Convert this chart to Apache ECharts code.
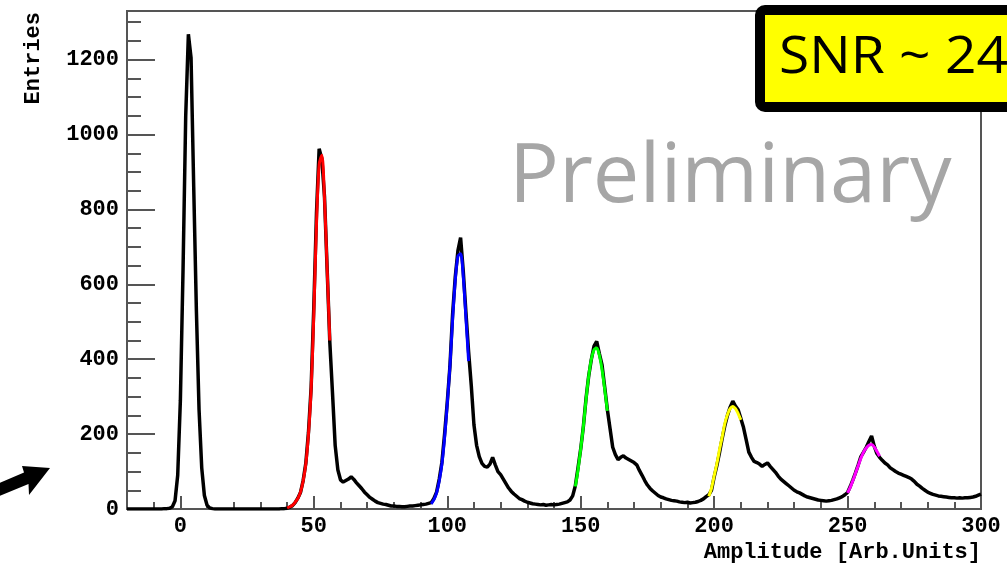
<!DOCTYPE html>
<html>
<head>
<meta charset="utf-8">
<script src="https://cdn.jsdelivr.net/npm/echarts@6/dist/echarts.min.js"></script>
<style>
html,body{margin:0;padding:0;background:#fff;}
#chart{width:1007px;height:563px;}
</style>
</head>
<body>
<div id="chart"></div>
<script>
// ---------------- data ----------------
const binStart = -20;
const binWidth = 1;
// histogram entries, one per amplitude unit from -20 to 300
const entries = [
  0,0,0,0,0,0,0,0,0,0,            // -20..-11
  0,0,0,0,1,1,2,6,22,90,          // -10..-1
  290,640,1050,1268,1205,860,530,265,110,36, // 0..9
  10,3,1,0,0,0,0,0,0,0,           // 10..19
  0,0,0,0,0,0,0,0,0,0,            // 20..29
  0,0,0,0,0,0,0,0,1,1,            // 30..39
  2,5,9,17,29,44,76,122,205,325,  // 40..49
  540,790,962,935,835,640,445,310,170,105, // 50..59
  78,72,76,80,86,79,70,62,54,45,  // 60..69
  38,31,26,21,17,15,13,12,10,8,   // 70..79
  8,7,7,6,6,7,8,8,9,10,           // 80..89
  11,12,13,15,17,28,45,80,125,200, // 90..99
  285,380,520,620,690,725,635,525,420,330, // 100..109
  225,170,140,122,114,112,120,138,118,100, // 110..119
  92,80,68,56,47,40,34,28,25,21,  // 120..129
  18,16,14,13,12,11,12,10,11,12,  // 130..139
  11,12,13,15,17,19,24,35,62,110, // 140..149
  160,220,295,355,400,435,448,415,385,325, // 150..159
  265,215,165,145,132,138,142,136,132,128, // 160..169
  124,118,103,90,76,64,55,48,42,36, // 170..179
  32,30,27,25,23,22,21,19,18,17,  // 180..189
  18,16,17,18,20,23,27,33,38,50,  // 190..199
  85,115,150,188,222,250,272,288,275,265, // 200..209
  242,218,185,152,138,127,124,120,114,119, // 210..219
  123,114,106,98,88,80,74,68,62,56, // 220..229
  50,46,43,39,35,32,30,28,26,24,  // 230..239
  23,22,21,22,23,25,27,30,33,38,  // 240..249
  44,60,78,97,118,140,152,165,180,195, // 250..259
  168,148,138,130,123,118,110,105,100,96, // 260..269
  93,90,87,84,80,74,66,61,55,50,  // 270..279
  45,42,39,37,35,34,33,32,31,30,  // 280..289
  30,29,30,29,30,30,31,32,34,37,  // 290..299
  40                              // 300
];

// fitted peaks (one value per amplitude unit, starting at the given amplitude)
const fitRedStart = 40;
const fitRed = [3,6,10,18,28,45,75,120,200,320,520,760,920,945,830,640,450];
const fitBlueStart = 94;
const fitBlue = [14,25,43,75,120,190,280,380,505,610,675,682,620,510,395];
const fitGreenStart = 148;
const fitGreen = [60,105,160,220,292,355,400,425,430,410,372,320,262];
const fitYellowStart = 198;
const fitYellow = [34,55,88,120,158,192,228,252,268,274,268,255,238];
const fitMagentaStart = 250;
const fitMagenta = [43,58,76,96,116,136,152,163,170,172,166,154,141];

// axes
const xMin = -20, xMax = 300;
const yMin = 0, yMax = 1330;
const xMajorTicks = [0,50,100,150,200,250,300];
const xMinorTicks = [-10,0,10,20,30,40,50,60,70,80,90,100,110,120,130,140,150,160,170,180,190,200,210,220,230,240,250,260,270,280,290,300];
const yMajorTicks = [0,200,400,600,800,1000,1200];
const yMinorTicks = [0,50,100,150,200,250,300,350,400,450,500,550,600,650,700,750,800,850,900,950,1000,1050,1100,1150,1200,1250,1300];

// texts
const xTitle = 'Amplitude [Arb.Units]';
const yTitle = 'Entries';
const snrText = 'SNR ~ 24';
const watermark = 'Preliminary';

// ---------------- chart ----------------
function toPairs(start, vals) {
  return vals.map((v, i) => [start + i * binWidth, v]);
}

const monoFont = 'Liberation Mono';
const axisColor = '#555';
const gridRect = { left: 127, right: 26, top: 11, bottom: 54 };
const plainNumber = (v) => String(v);

const chart = echarts.init(document.getElementById('chart'), null, { renderer: 'canvas' });

const option = {
  animation: false,
  backgroundColor: '#fff',
  grid: [
    Object.assign({ show: true, borderColor: axisColor, borderWidth: 2, backgroundColor: 'transparent' }, gridRect),
    Object.assign({ show: false }, gridRect),
    Object.assign({ show: false }, gridRect)
  ],
  xAxis: [
    {
      type: 'value', gridIndex: 0, min: xMin, max: xMax,
      axisLine: { show: true, onZero: false, lineStyle: { color: axisColor, width: 2 } },
      axisTick: { show: true, inside: true, length: 13, customValues: xMajorTicks, lineStyle: { color: axisColor, width: 2 } },
      axisLabel: { show: true, customValues: xMajorTicks, formatter: plainNumber, margin: 6, color: '#000', fontFamily: monoFont, fontWeight: 'bold', fontSize: 22 },
      splitLine: { show: false },
      name: xTitle, nameLocation: 'end', nameGap: 0, nameMoveOverlap: false,
      nameTextStyle: { align: 'right', verticalAlign: 'top', padding: [32, 0, 0, 0], color: '#000', fontFamily: monoFont, fontWeight: 'bold', fontSize: 22 }
    },
    {
      type: 'value', gridIndex: 1, min: xMin, max: xMax,
      axisLine: { show: false, onZero: false },
      axisTick: { show: true, inside: true, length: 7, customValues: xMinorTicks, lineStyle: { color: axisColor, width: 2 } },
      axisLabel: { show: false },
      splitLine: { show: false }
    },
    {
      type: 'value', gridIndex: 2, min: xMin, max: xMax,
      axisLine: { show: false, onZero: false }, axisTick: { show: false }, axisLabel: { show: false }, splitLine: { show: false }
    }
  ],
  yAxis: [
    {
      type: 'value', gridIndex: 0, min: yMin, max: yMax,
      axisLine: { show: true, onZero: false, lineStyle: { color: axisColor, width: 2 } },
      axisTick: { show: true, inside: true, length: 28, customValues: yMajorTicks, lineStyle: { color: axisColor, width: 2 } },
      axisLabel: { show: true, customValues: yMajorTicks, formatter: plainNumber, margin: 8, color: '#000', fontFamily: monoFont, fontWeight: 'bold', fontSize: 22 },
      splitLine: { show: false }
    },
    {
      type: 'value', gridIndex: 1, min: yMin, max: yMax,
      axisLine: { show: false, onZero: false },
      axisTick: { show: true, inside: true, length: 14, customValues: yMinorTicks, lineStyle: { color: axisColor, width: 2 } },
      axisLabel: { show: false },
      splitLine: { show: false }
    },
    {
      type: 'value', gridIndex: 2, min: yMin, max: yMax, offset: 94,
      axisLine: { show: false, onZero: false }, axisTick: { show: false }, axisLabel: { show: false }, splitLine: { show: false },
      name: yTitle, nameLocation: 'end', nameRotate: 90, nameGap: -1, nameMoveOverlap: false,
      nameTextStyle: { align: 'right', verticalAlign: 'middle', color: '#000', fontFamily: monoFont, fontWeight: 'bold', fontSize: 22 }
    }
  ],
  series: [
    {
      name: 'Entries', type: 'line', xAxisIndex: 0, yAxisIndex: 0,
      data: toPairs(binStart, entries), showSymbol: false, symbol: 'none',
      lineStyle: { color: '#000', width: 3.5 }, z: 2
    },
    { name: 'fit1', type: 'line', data: toPairs(fitRedStart, fitRed), showSymbol: false, symbol: 'none', smooth: 0.3, lineStyle: { color: '#ff0000', width: 3 }, z: 3 },
    { name: 'fit2', type: 'line', data: toPairs(fitBlueStart, fitBlue), showSymbol: false, symbol: 'none', smooth: 0.3, lineStyle: { color: '#0000ff', width: 3 }, z: 3 },
    { name: 'fit3', type: 'line', data: toPairs(fitGreenStart, fitGreen), showSymbol: false, symbol: 'none', smooth: 0.3, lineStyle: { color: '#00ff00', width: 3 }, z: 3 },
    { name: 'fit4', type: 'line', data: toPairs(fitYellowStart, fitYellow), showSymbol: false, symbol: 'none', smooth: 0.3, lineStyle: { color: '#ffff00', width: 3 }, z: 3 },
    { name: 'fit5', type: 'line', data: toPairs(fitMagentaStart, fitMagenta), showSymbol: false, symbol: 'none', smooth: 0.3, lineStyle: { color: '#ff00ff', width: 3 }, z: 3 }
  ],
  graphic: [
    {
      type: 'text', z: 5,
      style: { text: watermark, x: 509, y: 178, fontSize: 83, fontFamily: 'Open Sans', fill: '#a6a6a6', verticalAlign: 'middle' }
    },
    {
      type: 'rect', z: 20,
      shape: { x: 760, y: 10, width: 270, height: 97, r: 5 },
      style: { fill: '#ffff00', stroke: '#000', lineWidth: 10 }
    },
    {
      type: 'text', z: 21, x: 779, y: 58, scaleX: 1.06,
      style: { text: snrText, x: 0, y: 0, fontSize: 52, fontFamily: 'Open Sans', fill: '#000', verticalAlign: 'middle' }
    },
    {
      type: 'polygon', z: 21,
      shape: { points: [[-5, 485], [24, 472.5], [22, 466], [50, 468], [29, 495], [28.5, 484], [-5, 497.7]] },
      style: { fill: '#000' }
    }
  ]
};

chart.setOption(option);
</script>
</body>
</html>
